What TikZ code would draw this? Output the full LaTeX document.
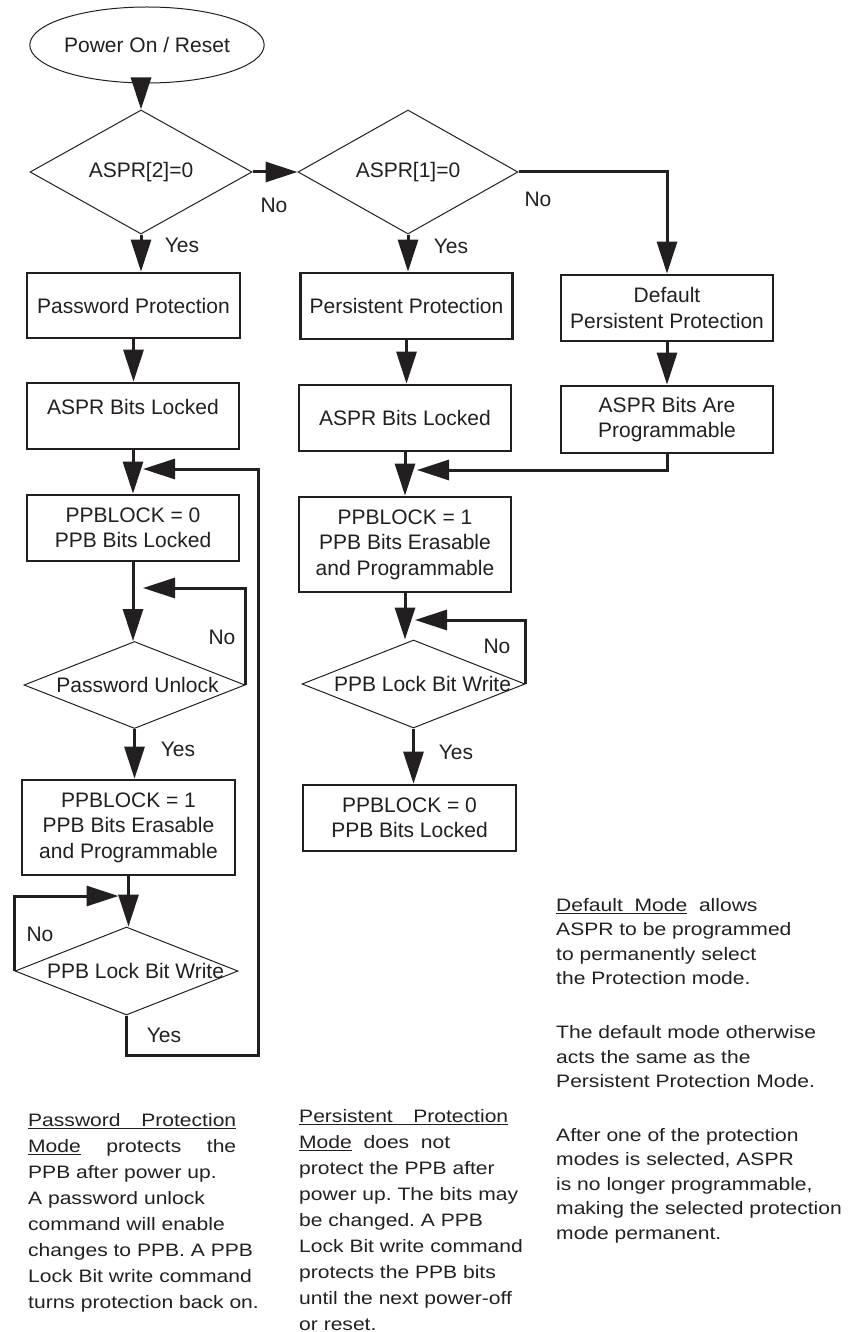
\documentclass[tikz,border=0pt]{standalone}
\usepackage{fontspec}
\setmainfont{Liberation Sans}
\newfontfamily\notefont[FakeStretch=1.17]{Liberation Sans}
\usetikzlibrary{shapes.geometric,arrows.meta}
\definecolor{ink}{HTML}{231F20}
\frenchspacing
\begin{document}
\begin{tikzpicture}[x=1pt,y=-1pt,
  flow/.style={font=\fontsize{21}{25.5}\selectfont, text=ink, align=center},
  box/.style={flow, draw=ink, line width=2.7pt, rectangle, inner sep=0pt, minimum width=212pt, minimum height=66pt},
  dec/.style={flow, draw=ink, line width=1pt, diamond, inner sep=0pt, minimum width=222pt, minimum height=87pt},
  term/.style={flow, draw=ink, line width=1pt, ellipse, inner sep=0pt, minimum width=228pt, minimum height=76pt},
  arr/.style={draw=ink, line width=3pt, -{Triangle[length=32pt,width=20pt]}},
  note/.style={font=\notefont\fontsize{18}{26}\selectfont, text=ink, align=left, inner sep=0pt, anchor=north west}]
\useasboundingbox (0,0) rectangle (848,1332);

% nodes
\node[term] (start) at (147,45) {Power On / Reset};
\node[dec] (d1) at (141,172) {ASPR[2]=0};
\node[dec, minimum width=220pt, minimum height=86pt] (d2) at (408,172) {ASPR[1]=0};
\node[box, minimum width=213pt, minimum height=65pt] (pw) at (133.5,305.5) {Password Protection};
\node[box] (pp) at (406.5,306) {Persistent Protection};
\node[box] (def) at (667,308) {Default\\Persistent Protection};
\node[box] (al1) at (133,416) {\raisebox{9pt}[\height][\depth]{ASPR Bits Locked}};
\node[box] (al2) at (405,418) {ASPR Bits Locked};
\node[box, minimum height=67pt] (ap) at (667,419.5) {ASPR Bits Are\\Programmable};
\node[box] (pl0a) at (133,528) {PPBLOCK = 0\\PPB Bits Locked};
\node[box, minimum height=95pt] (pl1b) at (405,544.5) {PPBLOCK = 1\\PPB Bits Erasable\\and Programmable};
\node[dec, minimum width=221pt] (pu) at (134.5,685) {\makebox[0pt]{\hspace{6pt}Password Unlock}};
\node[dec, minimum width=223pt, minimum height=88pt] (lw2) at (413.5,684) {\makebox[0pt]{\hspace{18pt}PPB Lock Bit Write}};
\node[box, minimum width=213pt, minimum height=95pt] (pl1a) at (128.5,827.5) {PPBLOCK = 1\\PPB Bits Erasable\\and Programmable};
\node[box, minimum width=213pt] (pl0b) at (409.5,818) {PPBLOCK = 0\\PPB Bits Locked};
\node[dec, minimum width=223pt, minimum height=88pt] (lw1) at (126.5,971) {\makebox[0pt]{\hspace{18pt}PPB Lock Bit Write}};

% merge points
\coordinate (m1) at (133,469);
\coordinate (r1) at (258,1055);
\coordinate (m2) at (133,588);
\coordinate (m3) at (405,470);
\coordinate (m4) at (405,620);
\coordinate (m5) at (128.5,896);

% connectors
\draw[arr] (start.south -| d1.north) -- (d1.north);
\draw[arr] (d1.east) -- (d2.west);
\draw[arr] (d1.south) -- (d1.south |- pw.north);
\draw[arr] (d2.south) -- (d2.south |- pp.north);
\draw[arr] (d2.east) -| (def.north);
\draw[arr] (pw.south) -- (pw.south |- al1.north);
\draw[arr] (pp.south) -- (pp.south |- al2.north);
\draw[arr] (def.south) -- (def.south |- ap.north);
\draw[arr] (al1.south) -- (al1.south |- pl0a.north);
\draw[arr] (al2.south) -- (al2.south |- pl1b.north);
\draw[arr, shorten >=12pt] (ap.south) |- (m3);
\draw[arr] (pl0a.south) -- (pl0a.south |- pu.north);
\draw[arr] (pl1b.south) -- (pl1b.south |- lw2.north);
\draw[arr, shorten >=10pt] (pu.east) |- (m2);
\draw[arr, shorten >=10pt] (lw2.east) |- (m4);
\draw[arr] (pu.south) -- (pu.south |- pl1a.north);
\draw[arr] (lw2.south) -- (lw2.south |- pl0b.north);
\draw[arr] (pl1a.south) -- (pl1a.south |- lw1.north);
\draw[arr, shorten >=10pt] (lw1.west) |- (m5);
\draw[arr, shorten >=10pt] (lw1.south) |- (r1) |- (m1);

% branch labels
\node[flow] (no1) at (274,205) {No};
\node[flow] (no2) at (538,199) {No};
\node[flow] (no3) at (222,637) {No};
\node[flow] (no4) at (497,646) {No};
\node[flow] (no5) at (40,934) {No};
\node[flow] (yes1) at (182,245) {Yes};
\node[flow] (yes2) at (451,246) {Yes};
\node[flow] (yes3) at (178,749) {Yes};
\node[flow] (yes4) at (456,752) {Yes};
\node[flow] (yes5) at (164,1035) {Yes};

% notes
\node[note] (n1) at (28,1113) {\underline{\hbox to 208pt{Password\hfill Protection}}\\
\hbox to 208pt{\underline{Mode}\hfill protects\hfill the}\\
PPB after power up.\\
A password unlock\\
command will enable\\
changes to PPB. A PPB\\
Lock Bit write command\\
turns protection back on.};
\node[note] (n2) at (299,1109) {\underline{\hbox to 209pt{Persistent\hfill Protection}}\\
\underline{Mode}\ \ does\ \ not\\
protect the PPB after\\
power up. The bits may\\
be changed. A PPB\\
Lock Bit write command\\
protects the PPB bits\\
until the next power-off\\
or reset.};
\node[note, font=\notefont\fontsize{18}{24.5}\selectfont] (n3) at (556,898) {\underline{Default\ \ Mode}\ \ allows\\
ASPR to be programmed\\
to permanently select\\
the Protection mode.\\[29.5pt]
The default mode otherwise\\
acts the same as the\\
Persistent Protection Mode.\\[29pt]
After one of the protection\\
modes is selected, ASPR\\
is no longer programmable,\\
making the selected protection\\
mode permanent.};
\end{tikzpicture}
\end{document}
